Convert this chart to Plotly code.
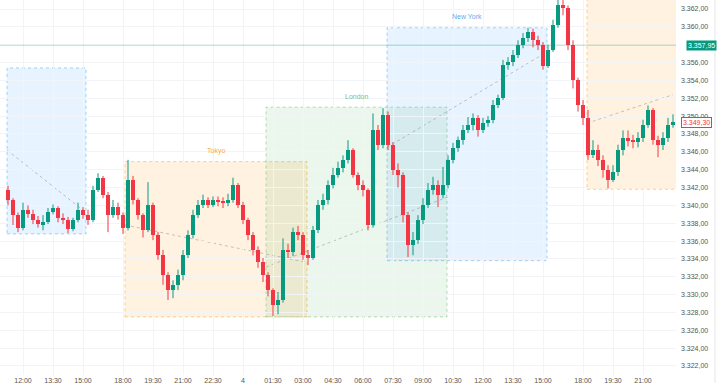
import plotly.graph_objects as go

# ---------------- data (XAU/USD-like, 15-min bars) ----------------
first_open = 3341.7
closes = [
    3340.6, 3338.9, 3337.5, 3339.5, 3339.0, 3338.4, 3337.9, 3338.1, 3339.2, 3339.7,
    3338.6, 3338.4, 3337.3, 3338.4, 3339.5, 3338.9, 3338.4, 3341.7, 3343.1, 3341.2,
    3338.9, 3339.8, 3338.9, 3337.5, 3342.8, 3340.6, 3338.9, 3337.2, 3340.0, 3336.7,
    3334.4, 3332.2, 3330.5, 3331.1, 3332.2, 3334.4, 3336.7, 3338.9, 3340.0, 3340.6,
    3340.0, 3340.6, 3340.4, 3340.3, 3340.6, 3342.3, 3340.0, 3338.4, 3336.7, 3335.0,
    3333.6, 3332.2, 3330.5, 3328.8, 3329.4, 3335.0, 3334.8, 3337.0, 3336.7, 3334.4,
    3334.1, 3337.2, 3340.0, 3340.6, 3342.3, 3343.4, 3344.2, 3345.1, 3346.2, 3343.4,
    3342.3, 3341.7, 3337.8, 3348.4, 3346.8, 3350.1, 3346.8, 3344.0, 3343.4, 3338.9,
    3335.6, 3336.1, 3338.4, 3340.0, 3341.7, 3342.3, 3341.2, 3342.3, 3345.1, 3346.4,
    3347.3, 3348.4, 3349.0, 3349.8, 3348.4, 3349.2, 3349.6, 3351.2, 3352.0, 3355.7,
    3356.1, 3356.8, 3358.0, 3358.7, 3359.4, 3358.5, 3358.0, 3355.6, 3357.4, 3360.2,
    3362.4, 3362.1, 3358.0, 3354.0, 3351.2, 3349.8, 3345.6, 3346.2, 3345.1, 3344.0,
    3342.8, 3343.7, 3346.2, 3347.5, 3347.3, 3347.1, 3347.5, 3349.0, 3350.7, 3347.3,
    3346.8, 3347.5, 3349.0, 3349.3,
]
highs = [
    3342.2, 3340.8, 3339.2, 3340.3, 3340.0, 3339.5, 3338.8, 3338.9, 3339.7, 3340.1,
    3339.9, 3339.1, 3338.7, 3338.6, 3340.3, 3339.8, 3339.5, 3342.2, 3343.6, 3343.3,
    3341.5, 3340.6, 3340.3, 3339.2, 3345.1, 3343.3, 3340.8, 3339.1, 3342.6, 3340.3,
    3337.0, 3335.0, 3332.5, 3331.6, 3332.8, 3335.0, 3337.2, 3339.5, 3340.6, 3341.2,
    3340.9, 3341.0, 3341.0, 3340.9, 3341.3, 3343.1, 3342.5, 3340.4, 3338.6, 3337.0,
    3335.4, 3334.1, 3332.5, 3330.7, 3330.3, 3336.3, 3335.7, 3337.5, 3337.7, 3337.0,
    3335.0, 3337.7, 3340.6, 3341.3, 3342.8, 3344.2, 3344.9, 3345.6, 3347.3, 3346.4,
    3343.7, 3342.8, 3341.9, 3350.3, 3349.0, 3350.9, 3350.5, 3347.1, 3344.7, 3343.7,
    3339.2, 3337.0, 3338.9, 3340.8, 3342.5, 3343.2, 3342.8, 3344.3, 3345.6, 3347.0,
    3347.7, 3349.0, 3349.9, 3350.3, 3350.1, 3349.8, 3350.0, 3351.8, 3352.4, 3356.3,
    3356.6, 3357.4, 3358.5, 3359.3, 3359.9, 3359.8, 3359.0, 3358.3, 3358.0, 3360.8,
    3363.9, 3363.6, 3362.4, 3358.5, 3354.3, 3351.8, 3350.7, 3347.3, 3346.8, 3345.6,
    3344.5, 3344.5, 3346.8, 3348.4, 3348.4, 3347.9, 3348.2, 3349.6, 3351.2, 3350.9,
    3347.8, 3348.2, 3349.8, 3350.2,
]
lows = [
    3340.0, 3337.8, 3337.0, 3337.2, 3338.6, 3337.9, 3337.5, 3337.2, 3337.9, 3339.0,
    3338.1, 3337.9, 3336.9, 3337.1, 3338.1, 3338.5, 3337.8, 3338.1, 3341.5, 3340.8,
    3337.0, 3338.6, 3338.4, 3336.8, 3337.2, 3340.1, 3338.4, 3336.4, 3337.0, 3336.1,
    3333.9, 3331.1, 3329.4, 3329.6, 3330.5, 3331.6, 3334.1, 3336.3, 3338.6, 3339.7,
    3339.7, 3339.8, 3339.9, 3339.7, 3339.9, 3340.3, 3339.7, 3337.9, 3336.1, 3334.4,
    3333.0, 3331.4, 3329.8, 3327.6, 3327.8, 3329.1, 3334.1, 3334.3, 3336.1, 3333.9,
    3333.3, 3333.9, 3336.9, 3339.5, 3340.1, 3341.9, 3343.1, 3343.7, 3344.7, 3343.1,
    3341.7, 3341.0, 3337.2, 3337.5, 3346.2, 3346.4, 3346.2, 3343.4, 3342.0, 3338.1,
    3334.2, 3334.4, 3335.7, 3337.9, 3339.7, 3341.2, 3339.8, 3340.8, 3341.9, 3344.7,
    3346.0, 3346.8, 3348.1, 3348.4, 3347.7, 3348.1, 3348.8, 3349.2, 3350.9, 3351.8,
    3355.2, 3355.6, 3356.5, 3357.6, 3358.3, 3357.7, 3357.4, 3355.2, 3355.4, 3357.2,
    3359.9, 3361.3, 3357.4, 3353.1, 3350.5, 3349.0, 3345.1, 3345.3, 3344.4, 3343.1,
    3341.9, 3342.6, 3343.3, 3345.6, 3346.6, 3346.4, 3346.5, 3347.1, 3348.7, 3346.8,
    3345.4, 3346.2, 3347.1, 3348.7,
]

# time axis: trading hours elapsed since 12:00 (day 3), 17:00-18:00 break removed
first_bar_hour = -0.75
bar_step_hours = 0.25

tick_hours = [0, 1.5, 3, 5, 6.5, 8, 9.5, 11, 12.5, 14, 15.5, 17, 18.5, 20, 21.5,
              23, 24.5, 26, 28, 29.5, 31]
tick_labels = ["12:00", "13:30", "15:00", "18:00", "19:30", "21:00", "22:30", "4",
               "01:30", "03:00", "04:30", "06:00", "07:30", "09:00", "10:30",
               "12:00", "13:30", "15:00", "18:00", "19:30", "21:00"]

# 3.358,00 is hidden behind the price label in the reference
price_ticks = [p for p in range(3322, 3363, 2) if p != 3358]

# trading sessions (start/end in the same hour units, prices)
session_names = ["New York", "Tokyo", "London", "New York", "Tokyo"]
session_start = [-0.8, 5.1, 12.15, 18.2, 28.2]
session_end = [3.15, 14.2, 21.2, 26.2, 33.5]
session_high = [3355.4, 3344.9, 3351.0, 3359.9, 3364.5]
session_low = [3336.8, 3327.5, 3327.5, 3333.8, 3341.8]
session_open = [3346.2, 3337.8, 3333.1, 3346.5, 3349.2]
session_close = [3339.2, 3333.6, 3340.9, 3357.2, 3352.4]
session_show_label = [False, True, True, True, False]

ref_line_price = 3357.95
last_price = closes[-1]

# ---------------- build ----------------
n = len(closes)
x = [first_bar_hour + bar_step_hours * i for i in range(n)]
opens = [first_open] + closes[:-1]
hi = [max(h, o, c) for h, o, c in zip(highs, opens, closes)]
lo = [min(l, o, c) for l, o, c in zip(lows, opens, closes)]

UP = "#089981"
DOWN = "#f23645"


def eu(v):
    return f"{v:,.2f}".replace(",", "X").replace(".", ",").replace("X", ".")


is_up = [c >= o for o, c in zip(opens, closes)]
body_base = [min(o, c) for o, c in zip(opens, closes)]
body_len = [max(abs(c - o), 0.12) for o, c in zip(opens, closes)]
colors = [UP if u else DOWN for u in is_up]

fig = go.Figure()
for want, col in ((True, UP), (False, DOWN)):
    wx, wy = [], []
    for xi, h, l, u in zip(x, hi, lo, is_up):
        if u == want:
            wx += [xi, xi, None]
            wy += [l, h, None]
    fig.add_trace(go.Scatter(x=wx, y=wy, mode="lines", line=dict(color=col, width=1),
                             showlegend=False, hoverinfo="skip"))
fig.add_trace(go.Bar(x=x, y=body_len, base=body_base, width=bar_step_hours * 0.62,
                     marker=dict(color=colors, line=dict(width=0)),
                     showlegend=False, hoverinfo="skip"))

style = {
    "New York": ("rgba(33,150,243,0.11)", "rgba(33,150,243,0.40)", "rgba(66,150,230,0.85)"),
    "Tokyo": ("rgba(255,152,0,0.12)", "rgba(255,152,0,0.45)", "rgba(245,150,40,0.85)"),
    "London": ("rgba(76,175,80,0.11)", "rgba(76,175,80,0.40)", "rgba(110,170,100,0.85)"),
}

x_max_bar = x[-1]
shapes = []
annotations = []
for name, s0, s1, sh, sl, so, sc, show in zip(session_names, session_start, session_end,
                                               session_high, session_low, session_open,
                                               session_close, session_show_label):
    fill, border, txt = style[name]
    shapes.append(dict(type="rect", xref="x", yref="y", x0=s0, x1=s1, y0=sl, y1=sh,
                       fillcolor=fill, line=dict(color=border, width=1, dash="dot"),
                       layer="below"))
    shapes.append(dict(type="line", xref="x", yref="y", x0=s0, x1=min(s1, x_max_bar),
                       y0=so, y1=sc, line=dict(color="rgba(140,140,140,0.5)", width=1, dash="dot"),
                       layer="below"))
    if show:
        annotations.append(dict(x=(s0 + s1) / 2, y=sh, xref="x", yref="y", text=name,
                                showarrow=False, yshift=11, font=dict(size=7, color=txt,
                                family="Liberation Sans")))

shapes.append(dict(type="line", xref="paper", yref="y", x0=0, x1=1, y0=ref_line_price,
                   y1=ref_line_price, line=dict(color="rgba(8,153,129,0.35)", width=1)))
shapes.append(dict(type="line", xref="paper", yref="paper", x0=1.0577, x1=1.0577, y0=-0.03,
                   y1=1, line=dict(color="#e6e6e6", width=1)))

annotations.append(dict(xref="paper", yref="y", x=1.0375, y=ref_line_price,
                        text=eu(ref_line_price), showarrow=False, xanchor="center",
                        bgcolor=UP, borderpad=1,
                        font=dict(size=7, color="white", family="Liberation Sans")))
annotations.append(dict(xref="paper", yref="y", x=1.0305, y=last_price,
                        text=eu(last_price), showarrow=False, xanchor="center",
                        bgcolor="white", bordercolor=DOWN, borderwidth=1, borderpad=1,
                        font=dict(size=7, color=DOWN, family="Liberation Sans")))

fig.update_layout(
    width=720, height=383,
    margin=dict(l=0, r=44, t=0, b=8),
    paper_bgcolor="white", plot_bgcolor="white",
    separators=",.",
    bargap=0,
    shapes=shapes, annotations=annotations,
    font=dict(family="Liberation Sans", size=8, color="#444"),
    xaxis=dict(range=[-1.15, 32.65], tickvals=tick_hours, ticktext=tick_labels,
               showgrid=True, gridcolor="#f3f4f7", zeroline=False, showline=False,
               ticks="", tickfont=dict(size=7, color="#555")),
    yaxis=dict(side="right", range=[3320.99, 3363.01], tickvals=price_ticks,
               tickformat=",.2f", showgrid=True, gridcolor="#f3f4f7", zeroline=False,
               showline=False, ticks="", ticklabelstandoff=4,
               tickfont=dict(size=7, color="#555")),
)

fig.write_html("out.html")
